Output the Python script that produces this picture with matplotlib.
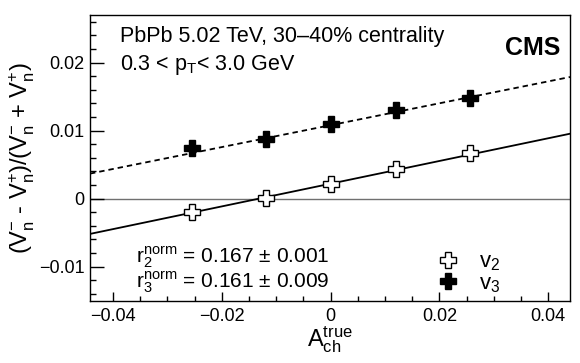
import matplotlib
matplotlib.use("Agg")
import matplotlib.pyplot as plt
from matplotlib.ticker import MultipleLocator, FuncFormatter
import numpy as np

plt.rcParams['font.family'] = ['Liberation Sans', 'DejaVu Sans']
plt.rcParams['mathtext.fontset'] = 'custom'
plt.rcParams['mathtext.rm'] = 'Liberation Sans'
plt.rcParams['mathtext.it'] = 'Liberation Sans:italic'
plt.rcParams['mathtext.bf'] = 'Liberation Sans:bold'

# data
a_true = [-0.0255, -0.0119, 0.0, 0.0120, 0.0257]
v2_asym = [-0.0019, 0.0001, 0.0021, 0.0043, 0.0067]
v3_asym = [0.0075, 0.0088, 0.0110, 0.0131, 0.0148]

# linear fits: slope (r_n^norm) and intercept
r2_norm, r2_err, v2_icpt = 0.167, 0.001, 0.0022
r3_norm, r3_err, v3_icpt = 0.161, 0.009, 0.0108

x_range = [-0.0442, 0.044]
y_range = [-0.015, 0.027]

fig = plt.figure(figsize=(5.8, 3.63), dpi=100)
ax = fig.add_axes([0.1552, 0.1716, 0.8276, 0.7871])

xfit = np.array(x_range)
ax.axhline(0, color='#707070', lw=1.0, zorder=1)
ax.plot(xfit, v2_icpt + r2_norm * xfit, color='black', lw=1.3, zorder=2)
ax.plot(xfit, v3_icpt + r3_norm * xfit, color='black', lw=1.3,
        ls=(0, (3, 2.2)), zorder=2)

h2, = ax.plot(a_true, v2_asym, ls='none', marker='P', ms=11,
              mfc='white', mec='black', mew=1.0, zorder=3)
h3, = ax.plot(a_true, v3_asym, ls='none', marker='P', ms=11,
              mfc='black', mec='black', mew=1.0, zorder=3)

ax.set_xlim(x_range)
ax.set_ylim(y_range)

ax.xaxis.set_major_locator(MultipleLocator(0.02))
ax.xaxis.set_minor_locator(MultipleLocator(0.005))
ax.yaxis.set_major_locator(MultipleLocator(0.01))
ax.yaxis.set_minor_locator(MultipleLocator(0.002))

fmt = FuncFormatter(lambda v, p: ('%g' % round(v, 4)).replace('-', '\u2212'))
ax.xaxis.set_major_formatter(fmt)
ax.yaxis.set_major_formatter(fmt)

ax.tick_params(axis='both', which='both', direction='in', top=False, right=False,
               labelsize=13, width=1.0)
ax.tick_params(axis='y', which='major', length=10, pad=4)
ax.tick_params(axis='y', which='minor', length=4.5)
ax.tick_params(axis='x', which='major', length=6.5, pad=5)
ax.tick_params(axis='x', which='minor', length=3.5)
for s in ax.spines.values():
    s.set_linewidth(1.0)

ax.set_xlabel(r'A$_{\mathrm{ch}}^{\mathrm{true}}$', fontsize=17, labelpad=0)
ax.set_ylabel(r'(V$_{\mathrm{n}}^{-}$ - V$_{\mathrm{n}}^{+}$)/(V$_{\mathrm{n}}^{-}$ + V$_{\mathrm{n}}^{+}$)',
              fontsize=17, labelpad=1)

ax.text(0.0625, 0.923, 'PbPb 5.02 TeV, 30\u201340% centrality', transform=ax.transAxes,
        fontsize=15.5, ha='left', va='center')
ax.text(0.0625, 0.825, r'0.3 < p$_{\mathrm{T}}$< 3.0 GeV', transform=ax.transAxes,
        fontsize=15.5, ha='left', va='center')
ax.text(0.979, 0.885, 'CMS', transform=ax.transAxes, fontsize=18,
        fontweight='bold', ha='right', va='center')

ax.text(0.096, 0.152, r'r$_{2}^{\mathrm{norm}}$ = %.3f $\pm$ %.3f' % (r2_norm, r2_err),
        transform=ax.transAxes, fontsize=15, ha='left', va='center')
ax.text(0.096, 0.066, r'r$_{3}^{\mathrm{norm}}$ = %.3f $\pm$ %.3f' % (r3_norm, r3_err),
        transform=ax.transAxes, fontsize=15, ha='left', va='center')

ax.legend([h2, h3], [r'v$_{2}$', r'v$_{3}$'], loc='center left',
          bbox_to_anchor=(0.722, 0.097), frameon=False, fontsize=16,
          handlelength=1.0, handletextpad=0.9, labelspacing=0.0,
          borderpad=0, borderaxespad=0)

fig.savefig('out.png', dpi=100)
